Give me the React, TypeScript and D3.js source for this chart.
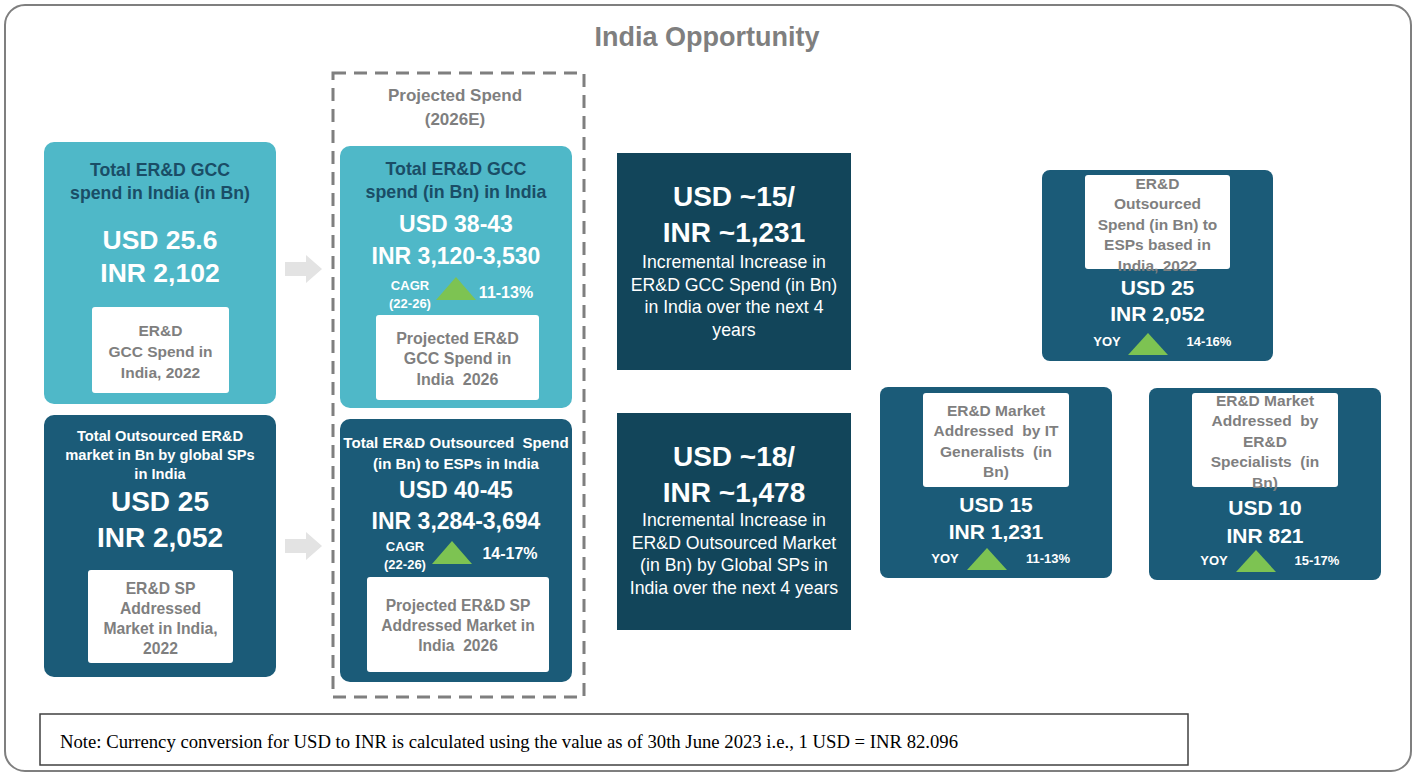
import React from "react";
import * as d3 from "d3";

const FONT = "'Liberation Sans', Arial, sans-serif";
const LIGHT = "#4FB8C8";
const DARK = "#1B5B78";
const DARKER = "#12455A";
const TITLE_DARK = "#1A4D66";
const GRAY = "#7F7F7F";
const GREEN = "#7DC352";

const title = "India Opportunity";
const projectedLabel = ["Projected Spend", "(2026E)"];

// 2022 cards (left)
const currentTitles = [
  ["Total ER&D GCC", "spend in India (in Bn)"],
  ["Total Outsourced ER&D", "market in Bn by global SPs", "in India"],
];
const currentValues = [
  ["USD 25.6", "INR 2,102"],
  ["USD 25", "INR 2,052"],
];
const currentNotes = [
  ["ER&D", "GCC Spend in", "India, 2022"],
  ["ER&D SP", "Addressed", "Market in India,", "2022"],
];

// 2026 projected cards
const projTitles = [
  ["Total ER&D GCC", "spend (in Bn) in India"],
  ["Total ER&D Outsourced  Spend", "(in Bn) to ESPs in India"],
];
const projValues = [
  ["USD 38-43", "INR 3,120-3,530"],
  ["USD 40-45", "INR 3,284-3,694"],
];
const projCagr = ["11-13%", "14-17%"];
const projNotes = [
  ["Projected ER&D", "GCC Spend in", "India  2026"],
  ["Projected ER&D SP", "Addressed Market in", "India  2026"],
];

// incremental
const incrValues = [
  ["USD ~15/", "INR ~1,231"],
  ["USD ~18/", "INR ~1,478"],
];
const incrTexts = [
  ["Incremental Increase in", "ER&D GCC Spend (in Bn)", "in India over the next 4", "years"],
  ["Incremental Increase in", "ER&D Outsourced Market", "(in Bn) by Global SPs in", "India over the next 4 years"],
];

// right split cards
const splitNotes = [
  ["ER&D", "Outsourced", "Spend (in Bn) to", "ESPs based in", "India, 2022"],
  ["ER&D Market", "Addressed  by IT", "Generalists  (in", "Bn)"],
  ["ER&D Market", "Addressed  by", "ER&D", "Specialists  (in", "Bn)"],
];
const splitValues = [
  ["USD 25", "INR 2,052"],
  ["USD 15", "INR 1,231"],
  ["USD 10", "INR 821"],
];
const splitYoy = ["14-16%", "11-13%", "15-17%"];

const note =
  "Note: Currency conversion for USD to INR is calculated using the value as of 30th June 2023 i.e., 1 USD = INR 82.096";

type LinesProps = {
  lines: string[];
  x: number;
  y: number;
  lh: number;
  size: number;
  fill: string;
  weight?: string | number;
  anchor?: string;
  family?: string;
};
function Lines({ lines, x, y, lh, size, fill, weight = "bold", anchor = "middle", family = FONT }: LinesProps) {
  return (
    <g>
      {lines.map((l, i) => (
        <text
          key={i}
          x={x}
          y={y + i * lh}
          fontSize={size}
          fill={fill}
          fontWeight={weight}
          textAnchor={anchor as any}
          dominantBaseline="central"
          fontFamily={family}
          style={{ whiteSpace: "pre" }}
        >
          {l}
        </text>
      ))}
    </g>
  );
}

function Tri({ x, y, w, h }: { x: number; y: number; w: number; h: number }) {
  const p = d3.path();
  p.moveTo(x, y + h);
  p.lineTo(x + w / 2, y);
  p.lineTo(x + w, y + h);
  p.closePath();
  return <path d={p.toString()} fill={GREEN} />;
}

function Arrow({ x, y }: { x: number; y: number }) {
  const p = d3.path();
  p.moveTo(x, y + 7);
  p.lineTo(x + 21, y + 7);
  p.lineTo(x + 21, y);
  p.lineTo(x + 37, y + 14);
  p.lineTo(x + 21, y + 28);
  p.lineTo(x + 21, y + 21);
  p.lineTo(x, y + 21);
  p.closePath();
  return <path d={p.toString()} fill="#E3E3E3" />;
}

export default function App() {
  const W = 1416;
  const H = 776;
  // layout
  const leftCards = [
    { x: 44, y: 142, w: 232, h: 262, fill: LIGHT, tc: TITLE_DARK, ty: 170, tlh: 23, ts: 17.7, vy: 240, vlh: 33, vs: 26.5, nb: { x: 92, y: 307, w: 137, h: 86 }, ny: 330, nlh: 21, ns: 15.5 },
    { x: 44, y: 415, w: 232, h: 262, fill: DARK, tc: "#fff", ty: 436, tlh: 19, ts: 14.7, vy: 501, vlh: 36, vs: 28, nb: { x: 88, y: 570, w: 145, h: 93 }, ny: 588, nlh: 20, ns: 15.7 },
  ];
  const projCards = [
    { x: 340, y: 146, w: 232, h: 262, fill: LIGHT, tc: TITLE_DARK, ty: 169, tlh: 23, ts: 17.8, vy: 224, vlh: 32, vs: 23, cy: 285, tri: { x: 436, y: 277 }, px: 506, nb: { x: 376, y: 315, w: 163, h: 85 }, ny: 338, nlh: 20.5, ns: 16, cx: 410 },
    { x: 340, y: 419, w: 232, h: 263, fill: DARK, tc: "#fff", ty: 442, tlh: 21, ts: 15.1, vy: 490, vlh: 31, vs: 23, cy: 546, tri: { x: 432, y: 541 }, px: 510, nb: { x: 367, y: 577, w: 182, h: 95 }, ny: 605, nlh: 20, ns: 15.6, cx: 405 },
  ];
  const incrCards = [
    { x: 617, y: 153, w: 234, h: 217, vy: 196, ty: 262 },
    { x: 617, y: 413, w: 234, h: 217, vy: 456, ty: 520 },
  ];
  const splitCards = [
    { x: 1042, y: 170, w: 231, h: 191, nb: { x: 1085, y: 175, w: 145, h: 94 }, ny: 183, vy: 287, vlh: 26, yy: 341, tri: { x: 1128, y: 333 }, yx: 1107, px: 1209 },
    { x: 880, y: 387, w: 232, h: 191, nb: { x: 923, y: 393, w: 146, h: 94 }, ny: 410, vy: 504, vlh: 27, yy: 558, tri: { x: 967, y: 548 }, yx: 945, px: 1048 },
    { x: 1149, y: 388, w: 232, h: 192, nb: { x: 1192, y: 393, w: 146, h: 94 }, ny: 400, vy: 507, vlh: 28, yy: 560, tri: { x: 1236, y: 550 }, yx: 1214, px: 1317 },
  ];

  return (
    <svg width={W} height={H} style={{ position: "absolute", left: 0, top: 0, background: "#fff" }}>
      <rect x={0} y={0} width={W} height={H} fill="#fff" />
      <rect x={5} y={5} width={1406} height={766} rx={20} fill="#fff" stroke={GRAY} strokeWidth={2} />
      <text x={707} y={37} fontSize={27} fontWeight="bold" fill={GRAY} textAnchor="middle" dominantBaseline="central" fontFamily={FONT}>
        {title}
      </text>

      {/* dashed projection frame */}
      <rect x={333} y={73} width={251} height={624} fill="none" stroke={GRAY} strokeWidth={3} strokeDasharray="13 8" />
      <Lines lines={projectedLabel} x={455} y={95} lh={24} size={17} fill={GRAY} />

      {leftCards.map((c, i) => (
        <g key={"l" + i}>
          <rect x={c.x} y={c.y} width={c.w} height={c.h} rx={10} fill={c.fill} />
          <Lines lines={currentTitles[i]} x={c.x + c.w / 2} y={c.ty} lh={c.tlh} size={c.ts} fill={c.tc} />
          <Lines lines={currentValues[i]} x={c.x + c.w / 2} y={c.vy} lh={c.vlh} size={c.vs} fill="#fff" />
          <rect x={c.nb.x} y={c.nb.y} width={c.nb.w} height={c.nb.h} rx={3} fill="#fff" />
          <Lines lines={currentNotes[i]} x={c.nb.x + c.nb.w / 2} y={c.ny} lh={c.nlh} size={c.ns} fill={GRAY} />
        </g>
      ))}

      <Arrow x={285} y={255} />
      <Arrow x={285} y={532} />

      {projCards.map((c, i) => (
        <g key={"p" + i}>
          <rect x={c.x} y={c.y} width={c.w} height={c.h} rx={10} fill={c.fill} />
          <Lines lines={projTitles[i]} x={c.x + c.w / 2} y={c.ty} lh={c.tlh} size={c.ts} fill={c.tc} />
          <Lines lines={projValues[i]} x={c.x + c.w / 2} y={c.vy} lh={c.vlh} size={c.vs} fill="#fff" />
          <Lines lines={["CAGR", "(22-26)"]} x={c.cx} y={c.cy} lh={18} size={13} fill="#fff" />
          <Tri x={c.tri.x} y={c.tri.y} w={40} h={23} />
          <text x={c.px} y={c.cy + 7} fontSize={16} fontWeight="bold" fill="#fff" textAnchor="middle" dominantBaseline="central" fontFamily={FONT}>
            {projCagr[i]}
          </text>
          <rect x={c.nb.x} y={c.nb.y} width={c.nb.w} height={c.nb.h} rx={3} fill="#fff" />
          <Lines lines={projNotes[i]} x={c.nb.x + c.nb.w / 2} y={c.ny} lh={c.nlh} size={c.ns} fill={GRAY} />
        </g>
      ))}

      {incrCards.map((c, i) => (
        <g key={"c" + i}>
          <rect x={c.x} y={c.y} width={c.w} height={c.h} fill={DARKER} />
          <Lines lines={incrValues[i]} x={c.x + c.w / 2} y={c.vy} lh={36} size={28} fill="#fff" />
          <Lines lines={incrTexts[i]} x={c.x + c.w / 2} y={c.ty} lh={22.7} size={17.7} fill="#fff" weight="normal" />
        </g>
      ))}

      {splitCards.map((c, i) => (
        <g key={"s" + i}>
          <rect x={c.x} y={c.y} width={c.w} height={c.h} rx={8} fill={DARK} />
          <rect x={c.nb.x} y={c.nb.y} width={c.nb.w} height={c.nb.h} rx={3} fill="#fff" />
          <Lines lines={splitNotes[i]} x={c.nb.x + c.nb.w / 2} y={c.ny} lh={20.5} size={15.5} fill={GRAY} />
          <Lines lines={splitValues[i]} x={c.x + c.w / 2} y={c.vy} lh={c.vlh} size={21} fill="#fff" />
          <text x={c.yx} y={c.yy} fontSize={13} fontWeight="bold" fill="#fff" textAnchor="middle" dominantBaseline="central" fontFamily={FONT}>
            YOY
          </text>
          <Tri x={c.tri.x} y={c.tri.y} w={40} h={22} />
          <text x={c.px} y={c.yy} fontSize={13} fontWeight="bold" fill="#fff" textAnchor="middle" dominantBaseline="central" fontFamily={FONT}>
            {splitYoy[i]}
          </text>
        </g>
      ))}

      <rect x={40} y={714} width={1148} height={51} fill="#fff" stroke="#404040" strokeWidth={1.5} />
      <text x={60} y={741} fontSize={18.7} fill="#000" dominantBaseline="central" fontFamily="'Liberation Serif', 'Times New Roman', serif">
        {note}
      </text>
    </svg>
  );
}
